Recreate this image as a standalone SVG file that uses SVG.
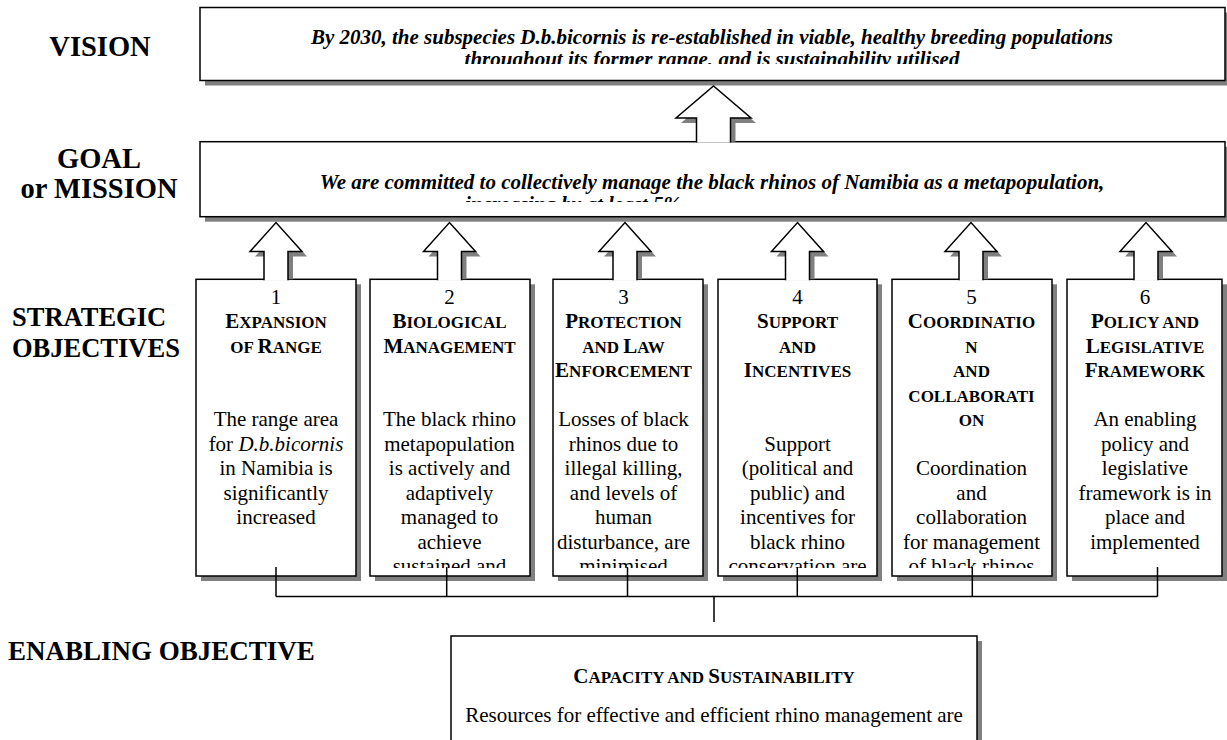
<svg xmlns="http://www.w3.org/2000/svg" width="1227" height="740" viewBox="0 0 1227 740">
<style>
text { font-family: "Liberation Serif", "Times New Roman", serif; fill: #000; }
.box { fill: #fff; stroke: #000; stroke-width: 1.5; }
.shadow { fill: #808080; stroke: none; }
.arrow { fill: #fff; stroke: #000; stroke-width: 1.5; stroke-linejoin: miter; }
.conn { fill: none; stroke: #000; stroke-width: 1.5; }
.lbl { font-weight: bold; }
.vis { font-weight: bold; font-style: italic; font-size: 21px; text-anchor: middle; }
.num { font-size: 21px; text-anchor: middle; }
.ttl { font-weight: bold; font-size: 17px; text-anchor: middle; }
.big { font-size: 21px; }
.body { font-size: 21px; text-anchor: middle; }
</style>
<defs>
<clipPath id="clipVision" clipPathUnits="userSpaceOnUse"><rect x="200" y="8" width="1025" height="56"/></clipPath>
<clipPath id="clipGoal" clipPathUnits="userSpaceOnUse"><rect x="200" y="142" width="1025" height="60"/></clipPath>
<clipPath id="clipObj" clipPathUnits="userSpaceOnUse"><rect x="0" y="280" width="1227" height="288"/></clipPath>
</defs>

<!-- Left labels -->
<g id="labels">
<text class="lbl" x="100" y="56" font-size="28.5" text-anchor="middle">VISION</text>
<text class="lbl" x="99" y="168" font-size="28.5" text-anchor="middle">GOAL</text>
<text class="lbl" x="99" y="198" font-size="28.5" text-anchor="middle">or MISSION</text>
<text class="lbl" x="12" y="326" font-size="26.5">STRATEGIC</text>
<text class="lbl" x="12" y="357" font-size="26.5">OBJECTIVES</text>
<text class="lbl" x="8" y="660" font-size="27">ENABLING OBJECTIVE</text>
</g>

<!-- Vision -->
<g id="vision">
<rect class="shadow" x="205" y="12.5" width="1025" height="73"/>
<rect class="box" x="200" y="7.5" width="1025" height="73"/>
<g clip-path="url(#clipVision)">
<text class="vis" x="712" y="43.5">By 2030, the subspecies D.b.bicornis is re-established in viable, healthy breeding populations</text>
<text class="vis" x="712" y="66">throughout its former range, and is sustainability utilised</text>
</g>
</g>

<!-- Goal -->
<g id="goal">
<rect class="shadow" x="205" y="146.7" width="1025" height="75"/>
<rect class="box" x="200" y="141.7" width="1025" height="75"/>
<g clip-path="url(#clipGoal)">
<text class="vis" x="712" y="188.5">We are committed to collectively manage the black rhinos of Namibia as a metapopulation,</text>
<text class="vis" x="573" y="210.5" text-anchor="start">increasing by at least 5%</text>
</g>
<polygon class="shadow" points="702.5,141.7 702.5,123 681,123 718.5,91 756,123 735.5,123 735.5,141.7"/>
<path class="arrow" d="M696.5,142.6 V118 H676 L713.5,86 L751,118 H730.5 V142.6"/>
</g>

<!-- Strategic objective 1 -->
<g id="obj1">
<rect class="shadow" x="201" y="284.3" width="160" height="296.7"/>
<rect class="box" x="196" y="279.3" width="160" height="296.7"/>
<polygon class="shadow" points="269,279.3 269,256.5 255,256.5 281,227.5 307,256.5 293,256.5 293,279.3"/>
<path class="arrow" d="M264,280.2 V251.5 H250 L276,222.5 L302,251.5 H288 V280.2"/>
<g clip-path="url(#clipObj)">
<text class="num" x="276" y="303.5">1</text>
<text class="ttl" x="276" y="328"><tspan class="big">E</tspan>XPANSION</text>
<text class="ttl" x="276" y="352.5">OF <tspan class="big">R</tspan>ANGE</text>
<text class="body" x="276" y="426">The range area</text>
<text class="body" x="276" y="450.5">for <tspan font-style="italic">D.b.bicornis</tspan></text>
<text class="body" x="276" y="475">in Namibia is</text>
<text class="body" x="276" y="499.5">significantly</text>
<text class="body" x="276" y="524">increased</text>
</g>
</g>

<!-- Strategic objective 2 -->
<g id="obj2">
<rect class="shadow" x="375" y="284.3" width="160" height="296.7"/>
<rect class="box" x="370" y="279.3" width="160" height="296.7"/>
<polygon class="shadow" points="442.5,279.3 442.5,256.5 428.5,256.5 454.5,227.5 480.5,256.5 466.5,256.5 466.5,279.3"/>
<path class="arrow" d="M437.5,280.2 V251.5 H423.5 L449.5,222.5 L475.5,251.5 H461.5 V280.2"/>
<g clip-path="url(#clipObj)">
<text class="num" x="449.5" y="303.5">2</text>
<text class="ttl" x="449.5" y="328"><tspan class="big">B</tspan>IOLOGICAL</text>
<text class="ttl" x="449.5" y="352.5"><tspan class="big">M</tspan>ANAGEMENT</text>
<text class="body" x="449.5" y="426">The black rhino</text>
<text class="body" x="449.5" y="450.5">metapopulation</text>
<text class="body" x="449.5" y="475">is actively and</text>
<text class="body" x="449.5" y="499.5">adaptively</text>
<text class="body" x="449.5" y="524">managed to</text>
<text class="body" x="449.5" y="548.5">achieve</text>
<text class="body" x="449.5" y="573">sustained and</text>
</g>
</g>

<!-- Strategic objective 3 -->
<g id="obj3">
<rect class="shadow" x="558" y="284.3" width="150" height="296.7"/>
<rect class="box" x="553" y="279.3" width="150" height="296.7"/>
<polygon class="shadow" points="618,279.3 618,256.5 604,256.5 630,227.5 656,256.5 642,256.5 642,279.3"/>
<path class="arrow" d="M613,280.2 V251.5 H599 L625,222.5 L651,251.5 H637 V280.2"/>
<g clip-path="url(#clipObj)">
<text class="num" x="623.5" y="303.5">3</text>
<text class="ttl" x="623.5" y="328"><tspan class="big">P</tspan>ROTECTION</text>
<text class="ttl" x="623.5" y="352.5">AND <tspan class="big">L</tspan>AW</text>
<text class="ttl" x="623.5" y="377"><tspan class="big">E</tspan>NFORCEMENT</text>
<text class="body" x="623.5" y="426">Losses of black</text>
<text class="body" x="623.5" y="450.5">rhinos due to</text>
<text class="body" x="623.5" y="475">illegal killing,</text>
<text class="body" x="623.5" y="499.5">and levels of</text>
<text class="body" x="623.5" y="524">human</text>
<text class="body" x="623.5" y="548.5">disturbance, are</text>
<text class="body" x="623.5" y="573">minimised</text>
</g>
</g>

<!-- Strategic objective 4 -->
<g id="obj4">
<rect class="shadow" x="723" y="284.3" width="159" height="296.7"/>
<rect class="box" x="718" y="279.3" width="159" height="296.7"/>
<polygon class="shadow" points="790.5,279.3 790.5,256.5 776.5,256.5 802.5,227.5 828.5,256.5 814.5,256.5 814.5,279.3"/>
<path class="arrow" d="M785.5,280.2 V251.5 H771.5 L797.5,222.5 L823.5,251.5 H809.5 V280.2"/>
<g clip-path="url(#clipObj)">
<text class="num" x="797.5" y="303.5">4</text>
<text class="ttl" x="797.5" y="328"><tspan class="big">S</tspan>UPPORT</text>
<text class="ttl" x="797.5" y="352.5">AND</text>
<text class="ttl" x="797.5" y="377"><tspan class="big">I</tspan>NCENTIVES</text>
<text class="body" x="797.5" y="450.5">Support</text>
<text class="body" x="797.5" y="475">(political and</text>
<text class="body" x="797.5" y="499.5">public) and</text>
<text class="body" x="797.5" y="524">incentives for</text>
<text class="body" x="797.5" y="548.5">black rhino</text>
<text class="body" x="797.5" y="573">conservation are</text>
</g>
</g>

<!-- Strategic objective 5 -->
<g id="obj5">
<rect class="shadow" x="897" y="284.3" width="160" height="296.7"/>
<rect class="box" x="892" y="279.3" width="160" height="296.7"/>
<polygon class="shadow" points="964,279.3 964,256.5 950,256.5 976,227.5 1002,256.5 988,256.5 988,279.3"/>
<path class="arrow" d="M959,280.2 V251.5 H945 L971,222.5 L997,251.5 H983 V280.2"/>
<g clip-path="url(#clipObj)">
<text class="num" x="971.5" y="303.5">5</text>
<text class="ttl" x="971.5" y="328"><tspan class="big">C</tspan>OORDINATIO</text>
<text class="ttl" x="971.5" y="352.5">N</text>
<text class="ttl" x="971.5" y="377">AND</text>
<text class="ttl" x="971.5" y="401.5">COLLABORATI</text>
<text class="ttl" x="971.5" y="426">ON</text>
<text class="body" x="971.5" y="475">Coordination</text>
<text class="body" x="971.5" y="499.5">and</text>
<text class="body" x="971.5" y="524">collaboration</text>
<text class="body" x="971.5" y="548.5">for management</text>
<text class="body" x="971.5" y="573">of black rhinos</text>
</g>
</g>

<!-- Strategic objective 6 -->
<g id="obj6">
<rect class="shadow" x="1072" y="284.3" width="155" height="296.7"/>
<rect class="box" x="1067" y="279.3" width="155" height="296.7"/>
<polygon class="shadow" points="1139,279.3 1139,256.5 1125,256.5 1151,227.5 1177,256.5 1163,256.5 1163,279.3"/>
<path class="arrow" d="M1134,280.2 V251.5 H1120 L1146,222.5 L1172,251.5 H1158 V280.2"/>
<g clip-path="url(#clipObj)">
<text class="num" x="1145" y="303.5">6</text>
<text class="ttl" x="1145" y="328"><tspan class="big">P</tspan>OLICY AND</text>
<text class="ttl" x="1145" y="352.5"><tspan class="big">L</tspan>EGISLATIVE</text>
<text class="ttl" x="1145" y="377"><tspan class="big">F</tspan>RAMEWORK</text>
<text class="body" x="1145" y="426">An enabling</text>
<text class="body" x="1145" y="450.5">policy and</text>
<text class="body" x="1145" y="475">legislative</text>
<text class="body" x="1145" y="499.5">framework is in</text>
<text class="body" x="1145" y="524">place and</text>
<text class="body" x="1145" y="548.5">implemented</text>
</g>
</g>

<!-- Enabling objective -->
<g id="capacity">
<rect class="shadow" x="456" y="641" width="526" height="120"/>
<rect class="box" x="451" y="636" width="526" height="120"/>
<text class="ttl" x="714" y="683"><tspan class="big">C</tspan>APACITY AND <tspan class="big">S</tspan>USTAINABILITY</text>
<text class="body" x="714" y="722">Resources for effective and efficient rhino management are</text>
</g>

<!-- Connectors -->
<g id="connectors">
<path class="conn" d="M276,567 V596.5 M446.7,567 V596.5 M627.5,567 V596.5 M797.3,567 V596.5 M972.3,567 V596.5 M1157.5,567 V596.5 M276,596.5 H1157.5 M714,596.5 V622"/>
</g>
</svg>
